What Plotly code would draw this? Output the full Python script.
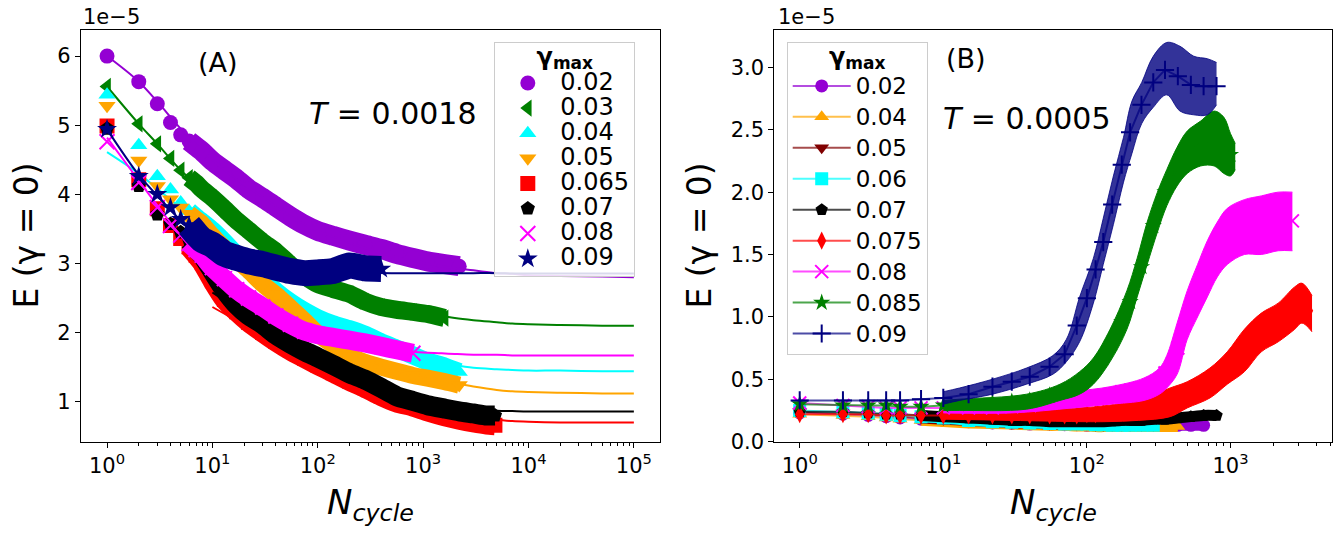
import plotly.graph_objects as go

W, H = 1341, 536
FONT = "DejaVu Sans"

# ====================== Panel A (T = 0.0018), E in units of 1e-5 ======================
NA = [1, 2, 3, 4, 5, 6, 7, 8, 10, 13, 17, 22, 30, 40, 55, 75, 100, 140, 200, 280,
      400, 560, 800, 1100, 1600, 2200, 3000, 4000, 4800]
EA_002 = [6.00, 5.63, 5.31, 5.04, 4.86, 4.77, 4.69, 4.62, 4.48, 4.35, 4.22, 4.08, 3.95, 3.82,
          3.68, 3.56, 3.47, 3.40, 3.33, 3.27, 3.21, 3.14, 3.08, 3.03, 2.99, 2.96]
EA_003 = [5.56, 5.02, 4.73, 4.52, 4.35, 4.24, 4.16, 4.07, 3.95, 3.79, 3.62, 3.48, 3.31, 3.17,
          2.98, 2.82, 2.70, 2.63, 2.56, 2.45, 2.37, 2.33, 2.30, 2.27, 2.21]
EA_004 = [5.44, 4.71, 4.26, 4.07, 3.88, 3.76, 3.67, 3.60, 3.48, 3.31, 3.12, 2.96, 2.77, 2.60,
          2.44, 2.31, 2.21, 2.12, 2.05, 1.97, 1.86, 1.77, 1.67, 1.58, 1.51, 1.43]
EA_005 = [5.28, 4.49, 4.12, 3.93, 3.81, 3.72, 3.64, 3.57, 3.40, 3.22, 3.05, 2.90, 2.70, 2.55,
          2.36, 2.17, 1.98, 1.82, 1.66, 1.57, 1.50, 1.44, 1.38, 1.34, 1.29, 1.24]
EA_0065 = [4.99, 4.21, 3.79, 3.55, 3.36, 3.24, 3.12, 3.01, 2.75, 2.48, 2.30, 2.15, 2.00, 1.87,
           1.74, 1.63, 1.53, 1.42, 1.30, 1.20, 1.08, 0.99, 0.93, 0.86, 0.79, 0.74, 0.70, 0.67, 0.66]
EA_007 = [4.95, 4.12, 3.71, 3.57, 3.45, 3.33, 3.22, 3.12, 2.89, 2.62, 2.40, 2.25, 2.12, 1.97,
          1.84, 1.73, 1.64, 1.53, 1.41, 1.32, 1.20, 1.08, 1.01, 0.95, 0.90, 0.86, 0.83, 0.80, 0.80]
EA_008 = [4.76, 4.17, 3.81, 3.55, 3.41, 3.29, 3.20, 3.12, 2.94, 2.78, 2.62, 2.50, 2.37, 2.24,
          2.12, 2.02, 1.97, 1.93, 1.89, 1.85, 1.80, 1.75, 1.70]
EA_009 = [4.94, 4.26, 4.00, 3.81, 3.64, 3.55, 3.43, 3.34, 3.27, 3.14, 3.08, 3.03, 2.99, 2.94,
          2.89, 2.86, 2.87, 2.89, 2.97, 2.93, 2.92]

# fitted curves (panel A)
NFA = [1, 2, 3, 5, 7, 10, 15, 20, 30, 50, 70, 100, 150, 200, 300, 500, 700, 1000, 1500, 2000,
       3000, 5000, 7000, 10000, 20000, 50000, 100000]
FA_002 = [6.00, 5.63, 5.34, 4.95, 4.73, 4.50, 4.28, 4.14, 3.96, 3.72, 3.59, 3.47, 3.37, 3.30,
          3.21, 3.11, 3.06, 3.01, 2.96, 2.93, 2.90, 2.86, 2.85, 2.83, 2.82, 2.81, 2.80]
FA_003 = [5.56, 5.02, 4.73, 4.35, 4.15, 3.95, 3.70, 3.54, 3.32, 3.03, 2.87, 2.73, 2.60, 2.52,
          2.43, 2.35, 2.31, 2.28, 2.24, 2.21, 2.18, 2.15, 2.13, 2.12, 2.11, 2.10, 2.10]
FA_004 = [4.61, 4.30, 4.08, 3.80, 3.63, 3.45, 3.22, 3.08, 2.86, 2.58, 2.42, 2.25, 2.10, 2.01,
          1.90, 1.77, 1.70, 1.63, 1.57, 1.53, 1.49, 1.47, 1.46, 1.45, 1.45, 1.44, 1.44]
FA_005 = [3.35, 3.12, 2.97, 2.75, 2.45, 2.26, 2.05, 1.85, 1.73, 1.60, 1.48, 1.42, 1.37, 1.31,
          1.27, 1.22, 1.17, 1.15, 1.14, 1.13, 1.12, 1.12]
FA_0065 = [2.37, 2.22, 2.12, 1.97, 1.76, 1.63, 1.50, 1.38, 1.29, 1.18, 1.05, 0.98, 0.92, 0.85,
           0.81, 0.77, 0.74, 0.72, 0.71, 0.70, 0.70, 0.70]
FA_007 = [2.58, 2.40, 2.28, 2.12, 1.90, 1.77, 1.64, 1.51, 1.42, 1.31, 1.17, 1.09, 1.02, 0.96,
          0.93, 0.89, 0.87, 0.865, 0.86, 0.86, 0.86, 0.86]
FA_008 = [4.82, 4.20, 3.84, 3.40, 3.15, 2.92, 2.67, 2.52, 2.33, 2.14, 2.05, 1.97, 1.90, 1.86,
          1.81, 1.76, 1.73, 1.71, 1.70, 1.69, 1.68, 1.68, 1.67, 1.67, 1.67, 1.67, 1.67]
FA_009 = [4.94, 4.28, 3.98, 3.62, 3.43, 3.27, 3.12, 3.05, 2.97, 2.91, 2.89, 2.88, 2.87, 2.87,
          2.865, 2.86, 2.86, 2.86, 2.86, 2.86, 2.86, 2.86, 2.855, 2.855, 2.855, 2.855, 2.855]

A_LABELS = ["0.02", "0.03", "0.04", "0.05", "0.065", "0.07", "0.08", "0.09"]
A_COLORS = ["#9400D3", "#008000", "#00FFFF", "#FFA500", "#FF0000", "#000000", "#FF00FF", "#000080"]
A_SYMBOLS = ["circle", "triangle-left", "triangle-up", "triangle-down", "square", "pentagon",
             "x-thin-open", "star"]
A_BAND_W = [20, 18, 18, 17, 20, 20, 19, 26]
A_DATA = [EA_002, EA_003, EA_004, EA_005, EA_0065, EA_007, EA_008, EA_009]
A_FITS = [FA_002, FA_003, FA_004, FA_005, FA_0065, FA_007, FA_008, FA_009]

# ====================== Panel B (T = 0.0005) ======================
NB = [1, 2, 3, 4, 5, 7, 10, 15, 22, 30, 40, 55, 70, 85, 100, 115, 130, 150, 175, 200, 240, 290,
      350, 430, 530, 650, 800, 1000, 1300, 1650, 2100, 2700, 3100, 3500]
EB_002 = [0.23, 0.22, 0.21, 0.20, 0.19, 0.18, 0.17, 0.16, 0.15, 0.145, 0.14, 0.14, 0.135, 0.135,
          0.13, 0.13, 0.13, 0.13, 0.13, 0.13, 0.13, 0.13, 0.13, 0.13, 0.13, 0.13]
EB_004 = [0.22, 0.21, 0.20, 0.19, 0.18, 0.17, 0.16, 0.15, 0.145, 0.14, 0.135, 0.13, 0.13, 0.125,
          0.125, 0.12, 0.12, 0.12, 0.12, 0.12, 0.12, 0.12, 0.12, 0.12]
EB_005 = [0.24, 0.23, 0.22, 0.21, 0.20, 0.19, 0.18, 0.17, 0.16, 0.15, 0.15, 0.14, 0.14, 0.14,
          0.14, 0.13, 0.13, 0.13, 0.13, 0.13, 0.13, 0.13]
EB_006 = [0.25, 0.24, 0.23, 0.22, 0.21, 0.20, 0.19, 0.17, 0.16, 0.155, 0.15, 0.145, 0.14, 0.14,
          0.14, 0.135, 0.135, 0.13, 0.13, 0.13, 0.13, 0.13]
EB_007 = [0.24, 0.24, 0.23, 0.22, 0.22, 0.21, 0.20, 0.19, 0.18, 0.17, 0.17, 0.16, 0.16, 0.16,
          0.16, 0.16, 0.16, 0.165, 0.17, 0.17, 0.17, 0.18, 0.18, 0.19, 0.20, 0.21, 0.21]
EB_0075 = [0.22, 0.22, 0.22, 0.21, 0.21, 0.21, 0.21, 0.21, 0.21, 0.21, 0.21, 0.21, 0.21, 0.21,
           0.22, 0.22, 0.23, 0.23, 0.24, 0.25, 0.26, 0.29, 0.32, 0.36, 0.38, 0.44, 0.49, 0.60,
           0.74, 0.88, 0.96, 1.07, 1.11, 1.05]
EB_008 = [0.31, 0.29, 0.28, 0.27, 0.27, 0.27, 0.27, 0.27, 0.27, 0.28, 0.29, 0.31, 0.33, 0.34,
          0.35, 0.36, 0.37, 0.38, 0.40, 0.41, 0.43, 0.46, 0.55, 0.75, 1.05, 1.32, 1.55, 1.66,
          1.73, 1.75, 1.77, 1.77]
EB_0085 = [0.30, 0.29, 0.29, 0.29, 0.28, 0.28, 0.29, 0.30, 0.31, 0.32, 0.33, 0.37, 0.41, 0.46,
           0.52, 0.58, 0.67, 0.79, 0.96, 1.12, 1.40, 1.73, 2.00, 2.21, 2.34, 2.40, 2.43, 2.30]
EB_009 = [0.33, 0.33, 0.33, 0.33, 0.33, 0.34, 0.35, 0.38, 0.44, 0.48, 0.52, 0.60, 0.70, 0.93,
          1.15, 1.38, 1.60, 1.90, 2.22, 2.48, 2.70, 2.88, 2.98, 2.93, 2.86, 2.85, 2.85]

# noisy-band envelopes (upper / lower edge)
NB_BAND_009 = [10, 13, 22, 38, 58, 72, 89, 111, 130, 153, 180, 206, 241, 290, 360, 445, 555, 690, 800]
HI_009 = [0.40, 0.43, 0.50, 0.59, 0.69, 0.82, 1.16, 1.47, 1.79, 2.13, 2.44, 2.73, 2.88, 3.09,
          3.20, 3.17, 3.09, 3.07, 3.04]
LO_009 = [0.30, 0.33, 0.38, 0.46, 0.54, 0.64, 0.80, 1.11, 1.42, 1.74, 2.08, 2.31, 2.55, 2.68,
          2.78, 2.65, 2.62, 2.62, 2.70]
NB_BAND_0085 = [10, 13, 38, 65, 89, 111, 145, 190, 224, 263, 310, 360, 425, 500, 620, 770, 900, 1000, 1080]
HI_0085 = [0.33, 0.34, 0.38, 0.46, 0.56, 0.67, 0.90, 1.21, 1.47, 1.76, 2.00, 2.18, 2.36, 2.49,
           2.57, 2.65, 2.60, 2.47, 2.39]
LO_0085 = [0.25, 0.25, 0.26, 0.33, 0.38, 0.46, 0.64, 0.90, 1.16, 1.42, 1.68, 1.89, 2.05, 2.15,
           2.21, 2.21, 2.15, 2.13, 2.18]
NB_BAND_008 = [10, 30, 80, 145, 250, 320, 360, 425, 500, 590, 690, 810, 950, 1250, 1640, 2150, 2700]
HI_008 = [0.30, 0.32, 0.40, 0.44, 0.51, 0.59, 0.69, 0.95, 1.21, 1.42, 1.61, 1.76, 1.87, 1.94,
          1.97, 2.00, 2.00]
LO_008 = [0.23, 0.23, 0.27, 0.30, 0.33, 0.38, 0.43, 0.54, 0.82, 1.00, 1.16, 1.32, 1.42, 1.50,
          1.50, 1.53, 1.53]
NB_BAND_0075 = [10, 30, 88, 138, 228, 380, 500, 720, 950, 1250, 1640, 2150, 2800, 3150, 3700]
HI_0075 = [0.25, 0.25, 0.27, 0.29, 0.33, 0.43, 0.48, 0.59, 0.72, 0.90, 1.03, 1.11, 1.24, 1.27, 1.17]
LO_0075 = [0.18, 0.17, 0.16, 0.16, 0.17, 0.20, 0.27, 0.35, 0.46, 0.56, 0.72, 0.80, 0.90, 0.95, 0.88]

B_LABELS = ["0.02", "0.04", "0.05", "0.06", "0.07", "0.075", "0.08", "0.085", "0.09"]
B_COLORS = ["#9400D3", "#FFA500", "#800000", "#00FFFF", "#000000", "#FF0000", "#FF00FF",
            "#008000", "#000080"]
B_SYMBOLS = ["circle", "triangle-up", "triangle-down", "square", "pentagon", "diamond-tall",
             "x-thin-open", "star", "cross-thin-open"]
B_FILL_ALPHA = [1, 1, 1, 1, 1, 1, 1, 1, 0.8]
B_DATA = [EB_002, EB_004, EB_005, EB_006, EB_007, EB_0075, EB_008, EB_0085, EB_009]
B_BANDS = {5: (NB_BAND_0075, HI_0075, LO_0075), 6: (NB_BAND_008, HI_008, LO_008),
           7: (NB_BAND_0085, HI_0085, LO_0085), 8: (NB_BAND_009, HI_009, LO_009)}

XTICK_VALS_A = [1, 10, 100, 1000, 10000, 100000]
XTICK_TEXT_A = ["10<sup>0</sup>", "10<sup>1</sup>", "10<sup>2</sup>", "10<sup>3</sup>",
                "10<sup>4</sup>", "10<sup>5</sup>"]
XTICK_VALS_B = [1, 10, 100, 1000]
XTICK_TEXT_B = XTICK_TEXT_A[:4]
YTICK_VALS_A = [1, 2, 3, 4, 5, 6]
YTICK_VALS_B = [0, 0.5, 1.0, 1.5, 2.0, 2.5, 3.0]
YTICK_TEXT_B = ["0.0", "0.5", "1.0", "1.5", "2.0", "2.5", "3.0"]

LEGEND_TITLE = ('<b><span style="font-size:24px">γ</span>'
                '<sub><span style="font-size:17px">max</span></sub></b>')


def rgba(hexcol, a):
    h = hexcol.lstrip("#")
    return "rgba(%d,%d,%d,%.2f)" % (int(h[0:2], 16), int(h[2:4], 16), int(h[4:6], 16), a)


def mline(sym, col):
    if "thin" in sym:
        return dict(width=2, color=col)
    return dict(width=0)


fig = go.Figure()

# ---- panel A traces ----
for vals, fit, col, sym, lab, bw in zip(A_DATA, A_FITS, A_COLORS, A_SYMBOLS, A_LABELS, A_BAND_W):
    xs = NA[:len(vals)]
    fig.add_trace(go.Scatter(x=xs[5:], y=vals[5:], mode="lines", xaxis="x", yaxis="y",
                             line=dict(color=col, width=bw, shape="spline", smoothing=0.5),
                             showlegend=False, hoverinfo="skip"))
    fig.add_trace(go.Scatter(x=xs, y=vals, mode="markers", xaxis="x", yaxis="y",
                             marker=dict(symbol=sym, size=15, color=col, line=mline(sym, col)),
                             name='<span style="font-size:24px">%s</span>' % lab,
                             legend="legend"))
    fxs = NFA[len(NFA) - len(fit):]
    fig.add_trace(go.Scatter(x=fxs, y=fit, mode="lines", xaxis="x", yaxis="y",
                             line=dict(color=col, width=2, shape="spline"),
                             showlegend=False, hoverinfo="skip"))

# ---- panel B traces ----
for i, (vals, col, sym, lab) in enumerate(zip(B_DATA, B_COLORS, B_SYMBOLS, B_LABELS)):
    xs = NB[:len(vals)]
    if i in B_BANDS:
        bx, hi, lo = B_BANDS[i]
        fc = rgba(col, B_FILL_ALPHA[i])
        fig.add_trace(go.Scatter(x=bx, y=lo, mode="lines", xaxis="x2", yaxis="y2",
                                 line=dict(color=fc, width=1, shape="spline"),
                                 showlegend=False, hoverinfo="skip"))
        fig.add_trace(go.Scatter(x=bx, y=hi, mode="lines", xaxis="x2", yaxis="y2",
                                 line=dict(color=fc, width=1, shape="spline"),
                                 fill="tonexty", fillcolor=fc,
                                 showlegend=False, hoverinfo="skip"))
    else:
        fig.add_trace(go.Scatter(x=xs[5:], y=vals[5:], mode="lines", xaxis="x2", yaxis="y2",
                                 line=dict(color=col, width=11, shape="spline", smoothing=0.5),
                                 showlegend=False, hoverinfo="skip"))
    fig.add_trace(go.Scatter(x=xs, y=vals, mode="lines+markers", xaxis="x2", yaxis="y2",
                             line=dict(color=rgba(col, 0.7), width=2),
                             marker=dict(symbol=sym, size=13, color=col, line=mline(sym, col)),
                             name='<span style="font-size:23px">%s</span>' % lab,
                             legend="legend2"))

axis_common = dict(showline=True, mirror=True, linecolor="black", linewidth=1,
                   ticks="outside", ticklen=5, tickcolor="black", showgrid=False,
                   zeroline=False, tickfont=dict(family=FONT, size=21, color="black"))

minorA = [m * 10 ** k for k in range(0, 5) for m in range(2, 10)]
minorB = [m * 10 ** k for k in range(0, 4) for m in range(2, 10)]

fig.update_layout(
    width=W, height=H, margin=dict(l=0, r=0, t=0, b=0),
    paper_bgcolor="white", plot_bgcolor="white",
    font=dict(family=FONT, color="black"),
    xaxis=dict(domain=[80.7 / W, 660.2 / W], anchor="y", type="log", range=[-0.25, 5.25],
               tickmode="array", tickvals=XTICK_VALS_A, ticktext=XTICK_TEXT_A,
               minor=dict(tickmode="array", tickvals=minorA, ticks="outside", ticklen=3,
                          tickcolor="black", showgrid=False),
               **axis_common),
    yaxis=dict(domain=[1 - 451.7 / H, 1 - 30.7 / H], anchor="x", range=[0.423, 6.377],
               tickmode="array", tickvals=YTICK_VALS_A, **axis_common),
    xaxis2=dict(domain=[774.3 / W, 1332.4 / W], anchor="y2", type="log", range=[-0.177, 3.71],
                tickmode="array", tickvals=XTICK_VALS_B, ticktext=XTICK_TEXT_B,
                minor=dict(tickmode="array", tickvals=minorB, ticks="outside", ticklen=3,
                           tickcolor="black", showgrid=False),
                **axis_common),
    yaxis2=dict(domain=[1 - 451.7 / H, 1 - 30.7 / H], anchor="x2", range=[0, 3.3],
                tickmode="array", tickvals=YTICK_VALS_B, ticktext=YTICK_TEXT_B, **axis_common),
    legend=dict(x=494.3 / W, y=1 - 43.3 / H, xanchor="left", yanchor="top", traceorder="normal",
                bgcolor="rgba(255,255,255,0.85)", bordercolor="#cccccc", borderwidth=1,
                font=dict(family=FONT, size=17, color="black"), itemwidth=55,
                title=dict(text=LEGEND_TITLE, side="top center",
                           font=dict(family=FONT, size=17, color="black"))),
    legend2=dict(x=786.7 / W, y=1 - 43.3 / H, xanchor="left", yanchor="top", traceorder="normal",
                 bgcolor="rgba(255,255,255,0.85)", bordercolor="#cccccc", borderwidth=1,
                 font=dict(family=FONT, size=21.5, color="black"), itemwidth=58,
                 title=dict(text=LEGEND_TITLE, side="top center",
                            font=dict(family=FONT, size=17, color="black"))),
)

ann = [
    dict(text="1e\u22125", x=81 / W, y=1 - 17 / H, xanchor="left", yanchor="middle", size=21),
    dict(text="1e\u22125", x=776 / W, y=1 - 17 / H, xanchor="left", yanchor="middle", size=21),
    dict(text="(A)", x=218 / W, y=1 - 64 / H, xanchor="center", yanchor="middle", size=27),
    dict(text="<i>T</i> = 0.0018", x=393 / W, y=1 - 116 / H, xanchor="center", yanchor="middle", size=30),
    dict(text="(B)", x=966 / W, y=1 - 60 / H, xanchor="center", yanchor="middle", size=27),
    dict(text="<i>T</i> = 0.0005", x=1027 / W, y=1 - 121 / H, xanchor="center", yanchor="middle", size=30),
    dict(text="<i>N</i><sub><i>cycle</i></sub>", x=370 / W, y=1 - 516 / H, xanchor="center",
         yanchor="middle", size=34),
    dict(text="<i>N</i><sub><i>cycle</i></sub>", x=1053 / W, y=1 - 516 / H, xanchor="center",
         yanchor="middle", size=34),
]
for a in ann:
    fig.add_annotation(text=a["text"], x=a["x"], y=a["y"], xref="paper", yref="paper",
                       xanchor=a["xanchor"], yanchor=a["yanchor"], showarrow=False,
                       font=dict(family=FONT, size=a["size"], color="black"))
for xc in (27, 700):
    fig.add_annotation(text="E (γ = 0)", x=xc / W, y=1 - 241 / H, xref="paper", yref="paper",
                       xanchor="center", yanchor="middle", textangle=-90, showarrow=False,
                       font=dict(family=FONT, size=33, color="black"))

fig.write_html("out.html")
